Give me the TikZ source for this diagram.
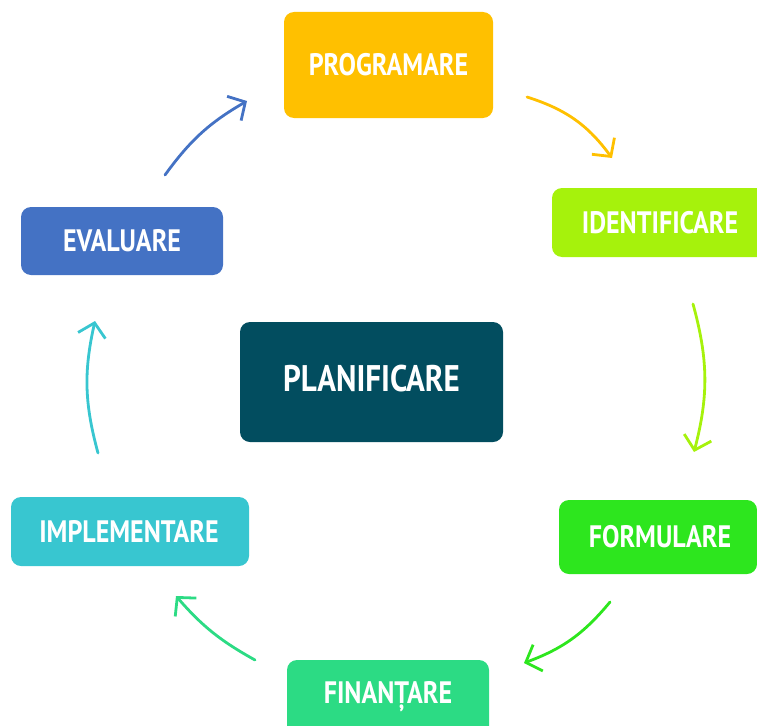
\documentclass[tikz,border=0pt]{standalone}
\usepackage{fontspec}
\setmainfont{PT Sans}[FakeStretch=0.84]
\usetikzlibrary{arrows.meta}
\definecolor{cProg}{HTML}{FFC000}
\definecolor{cIdent}{HTML}{A6F20C}
\definecolor{cForm}{HTML}{2DE61E}
\definecolor{cFin}{HTML}{2CDB84}
\definecolor{cImpl}{HTML}{38C6D0}
\definecolor{cEval}{HTML}{4472C4}
\definecolor{cPlan}{HTML}{024D5F}
\tikzset{
  boxfill/.style={rounded corners=10pt, draw=none},
  lbl/.style={text=white, font=\bfseries\fontsize{31}{34}\selectfont, inner sep=0pt},
  biglbl/.style={text=white, font=\bfseries\fontsize{37}{40}\selectfont, inner sep=0pt},
  cyc/.style={line width=2.8pt, line cap=round, -{Straight Barb[length=13pt,width=28pt,line width=2.8pt]}}
}
\begin{document}
\begin{tikzpicture}[x=1pt,y=1pt]
\useasboundingbox (0,0) rectangle (757,-725);
\clip (0,0) rectangle (757,-725);
% boxes
\fill[boxfill, cProg] (284,-12) rectangle (493,-118);
\node[lbl] (prog) at (388.5,-65) {PROGRAMARE};
\fill[boxfill, cIdent] (552,-188) rectangle (775,-257);
\node[lbl] (ident) at (660,-222.5) {IDENTIFICARE};
\fill[boxfill, cForm] (559,-500) rectangle (757,-574);
\node[lbl] (form) at (660,-537) {FORMULARE};
\fill[boxfill, cFin] (287,-660) rectangle (489,-740);
\node[lbl] (fin) at (388,-697) {FINANȚARE};
\fill[boxfill, cImpl] (11,-497) rectangle (249,-566);
\node[lbl] (impl) at (129,-531.5) {IMPLEMENTARE};
\fill[boxfill, cEval] (21,-207) rectangle (223,-275);
\node[lbl] (eval) at (122,-241) {EVALUARE};
\fill[boxfill, cPlan] (240,-322) rectangle (503,-442);
\node[biglbl] (plan) at (371.5,-379) {PLANIFICARE};
% arrow end points
\coordinate (a1s) at (165,-175); \coordinate (a1e) at (247,-101);
\coordinate (a2s) at (527,-97);  \coordinate (a2e) at (612,-158);
\coordinate (a3s) at (693,-304); \coordinate (a3e) at (694,-452);
\coordinate (a4s) at (610,-602); \coordinate (a4e) at (524,-663);
\coordinate (a5s) at (255,-660); \coordinate (a5e) at (176,-596);
\coordinate (a6s) at (98,-453);  \coordinate (a6e) at (95,-321);
\draw[cyc, cEval] (a1s) to[bend left=12] (a1e);
\draw[cyc, cProg] (a2s) to[bend left=18] (a2e);
\draw[cyc, cIdent] (a3s) to[bend left=15] (a3e);
\draw[cyc, cForm] (a4s) to[bend left=15] (a4e);
\draw[cyc, cFin] (a5s) to[bend left=10] (a5e);
\draw[cyc, cImpl] (a6s) to[bend left=14] (a6e);
\end{tikzpicture}
\end{document}
